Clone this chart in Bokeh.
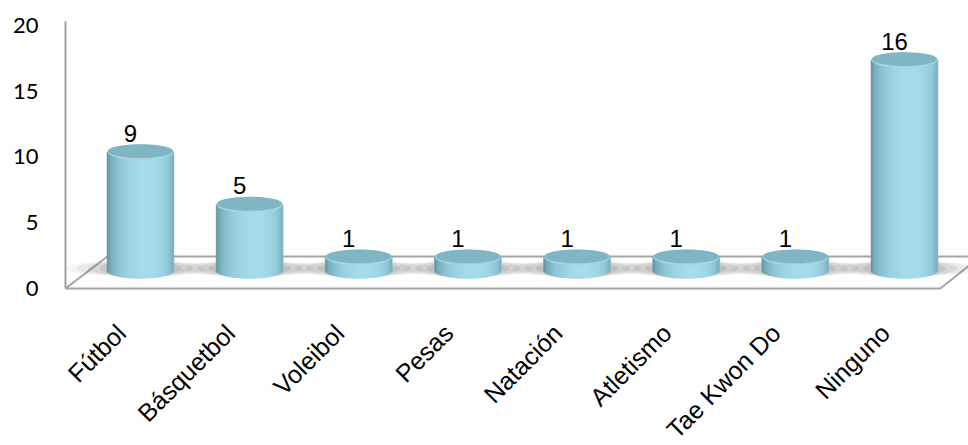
import math
from bokeh.plotting import figure
from bokeh.models import ColumnDataSource, FixedTicker, Range1d
from bokeh.embed import file_html
from bokeh.resources import INLINE
from bokeh.core.properties import value

# ---- data ----
categories = ["Fútbol", "Básquetbol", "Voleibol", "Pesas", "Natación",
              "Atletismo", "Tae Kwon Do", "Ninguno"]
counts = [9, 5, 1, 1, 1, 1, 1, 16]
y_ticks = [0, 5, 10, 15, 20]

# ---- layout / style constants ----
X0, X1 = -0.5956, 7.678          # x range (category units)
Y0, Y1 = -11.94, 20.3             # y range (area below 0 holds the category labels)
Y_TOP = 20.3
DEPTH_DX = 0.0916                 # 3-D depth shift of the cylinders (x units)
BASE = 1.37                       # 3-D depth shift of the cylinders (y units)
BAR_W = 0.605                     # cylinder diameter (x units)
ELL_H = 1.2                       # ellipse height (y units)
N_STRIPS = 44
DARK = (86, 140, 155)
LIGHT = (166, 221, 235)
LABEL_DX = -0.085                 # anchor shift of the rotated category labels
LABEL_Y = -3.05

p = figure(width=968, height=445, output_backend="svg", toolbar_location=None,
           x_range=Range1d(X0, X1), y_range=Range1d(Y0, Y1),
           min_border_left=65, min_border_right=0, min_border_top=21,
           min_border_bottom=0)
p.outline_line_color = None
p.background_fill_color = "white"
p.border_fill_color = "white"
p.xgrid.visible = False
p.ygrid.visible = False
p.xaxis.visible = False

# y axis
p.yaxis.ticker = FixedTicker(ticks=y_ticks)
p.yaxis.bounds = (0, Y_TOP)
p.yaxis.major_tick_line_color = None
p.yaxis.minor_tick_line_color = None
p.yaxis.axis_line_color = "#a0a0a0"
p.yaxis.axis_line_width = 2
p.yaxis.major_label_text_font = "Lato"
p.yaxis.major_label_text_font_size = "22px"
p.yaxis.major_label_text_color = "black"
p.yaxis.major_label_standoff = 21

idx = list(range(len(categories)))

# floor (3-D base plane)
floor_back_y = 2.43
p.patch(x=[X0, len(categories) - 0.58, len(categories) - 0.212, X0 + 0.385],
        y=[0, 0, floor_back_y, floor_back_y],
        fill_color="white", line_color="#a6a6a6", line_width=2)

bar_x = [i + DEPTH_DX for i in idx]

# soft shadows on the floor
for k, a in [(2.3, 0.07), (1.95, 0.09), (1.6, 0.13), (1.25, 0.16)]:
    p.ellipse(x=bar_x, y=[BASE + 0.15] * len(idx), width=BAR_W * k,
              height=ELL_H * 1.0, fill_color="#6e6e6e", fill_alpha=a,
              line_color=None)

# cylinder bodies as shaded vertical strips
sx, sb, st, sc = [], [], [], []
sw = BAR_W / N_STRIPS
for xc, v in zip(bar_x, counts):
    for k in range(N_STRIPS):
        t = ((k + 0.5) / N_STRIPS) * 2 - 1
        ang = math.asin(t)
        f = max(0.0, math.cos(ang - 0.2)) ** 0.9
        f = 0.12 + 0.88 * f
        col = tuple(int(DARK[j] + (LIGHT[j] - DARK[j]) * f) for j in range(3))
        sx.append(xc - BAR_W / 2 + (k + 0.5) * sw)
        sb.append(BASE - ELL_H / 2 * math.sqrt(max(0.0, 1 - t * t)))
        st.append(BASE + v)
        sc.append("#%02x%02x%02x" % col)
src = ColumnDataSource(dict(x=sx, bottom=sb, top=st, color=sc))
p.vbar(x="x", bottom="bottom", top="top", width=sw * 1.6, fill_color="color",
       line_color="color", line_width=0.5, source=src)

# cylinder tops: light front rim + darker top face
top_y = [BASE + v for v in counts]
p.ellipse(x=bar_x, y=top_y, width=BAR_W, height=ELL_H,
          fill_color="#a4d5e1", line_color=None)
p.ellipse(x=bar_x, y=[t + ELL_H * 0.06 for t in top_y], width=BAR_W * 0.99,
          height=ELL_H * 0.88, fill_color="#80b6c4", line_color=None)

# value labels
p.text(x=idx, y=[v + BASE + 0.8 for v in counts], text=[str(v) for v in counts],
       text_align="center", text_baseline="bottom",
       text_font=value("Liberation Sans"), text_font_size="24px",
       text_color="black")

# category labels (rotated 45 degrees)
p.text(x=[i + LABEL_DX for i in idx], y=[LABEL_Y] * len(idx), text=categories,
       angle=math.pi / 4, text_align="right", text_baseline="middle",
       text_font=value("Liberation Sans"), text_font_size="25px",
       text_color="black")

open("out.html", "w").write(file_html(p, INLINE))
